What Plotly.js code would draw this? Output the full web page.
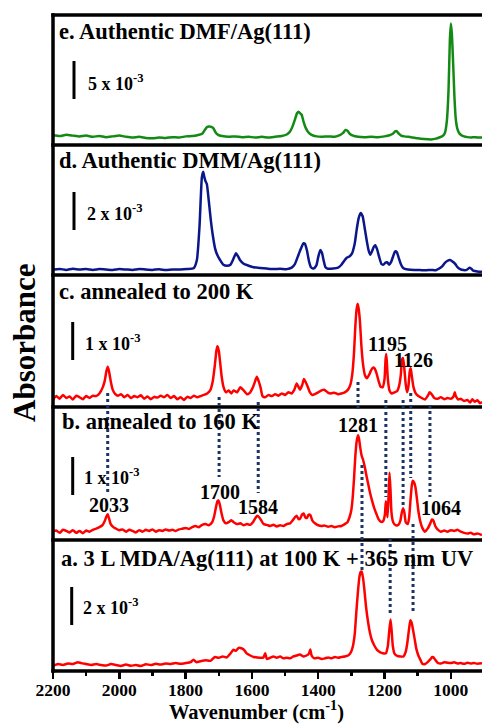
<!DOCTYPE html>
<html><head><meta charset="utf-8">
<script src="https://cdn.plot.ly/plotly-3.0.1.min.js"></script>
<style>html,body{margin:0;padding:0;background:#fff;}#chart{width:482px;height:724px;}</style>
</head><body><div id="chart"></div>
<script>
// ---------- DATA (absorbance in units of 10^-3) ----------
const wnE = [2200,2180,2160,2140,2120,2100,2080,2060,2040,2020,2000,1980,1960,1940,1920,1900,1880,1860,1840,1820,1800,1780,1765,1750,1742,1736,1730,1722,1716,1710,1702,1690,1670,1650,1630,1610,1590,1570,1550,1530,1510,1495,1485,1478,1470,1464,1459,1455,1450,1445,1438,1430,1420,1405,1390,1370,1350,1335,1325,1318,1312,1305,1295,1280,1260,1240,1220,1200,1185,1175,1168,1163,1157,1150,1140,1120,1100,1080,1060,1045,1035,1025,1018,1012,1007,1003,1000,997,993,989,985,980,975,968,960,950,940,930,920,906];
const absE = [0.1,0.0,0.15,0.05,-0.05,0.05,-0.1,0.0,-0.15,-0.05,0.05,-0.1,-0.2,-0.1,-0.25,-0.3,-0.2,-0.25,-0.15,-0.2,-0.05,0.0,0.1,0.3,0.8,1.15,1.25,1.2,1.0,0.5,0.15,0.0,-0.1,-0.05,-0.15,-0.1,-0.2,-0.1,-0.2,-0.1,0.0,0.2,0.6,1.2,2.2,3.0,3.2,3.0,2.8,2.0,1.1,0.5,0.15,-0.05,-0.1,-0.05,-0.1,0.1,0.4,0.8,0.7,0.3,0.05,-0.1,-0.15,-0.1,-0.15,-0.05,0.1,0.3,0.6,0.65,0.3,0.05,-0.05,-0.15,-0.3,-0.4,-0.45,-0.35,-0.2,0.0,0.4,2.0,6.0,12.5,14.8,13.5,9.5,5.0,2.2,0.9,0.4,0.1,-0.05,-0.15,-0.2,-0.15,-0.2,-0.2];

const wnD = [2200,2180,2160,2140,2120,2100,2080,2060,2040,2020,2000,1980,1960,1940,1920,1900,1880,1860,1840,1816,1796,1776,1766,1758,1751,1747,1744,1740,1736,1730,1724,1718,1711,1704,1696,1686,1675,1665,1656,1648,1642,1636,1625,1610,1595,1575,1555,1535,1515,1495,1480,1470,1460,1452,1445,1440,1434,1428,1422,1414,1406,1400,1394,1389,1384,1378,1370,1355,1340,1330,1322,1314,1306,1298,1290,1284,1278,1272,1266,1260,1254,1248,1243,1238,1232,1228,1223,1216,1209,1203,1197,1192,1186,1180,1174,1168,1163,1157,1150,1143,1130,1110,1093,1075,1060,1045,1035,1027,1018,1010,1002,995,987,980,972,962,952,944,938,932,920,906];
const absD = [0.0,0.03,-0.02,0.04,0.0,0.03,-0.02,0.02,0.0,-0.03,0.02,0.0,-0.02,0.03,0.0,-0.02,0.01,-0.03,0.0,0.0,0.02,0.06,0.5,2.3,4.85,5.15,4.9,4.65,4.5,3.6,2.6,1.8,1.1,0.75,0.5,0.25,0.2,0.25,0.55,0.85,0.7,0.5,0.3,0.2,0.12,0.08,0.05,0.02,0.04,0.02,0.1,0.3,0.75,1.1,1.38,1.35,1.0,0.45,0.12,0.05,0.2,0.65,1.02,0.9,0.5,0.12,0.04,0.05,0.1,0.25,0.45,0.62,0.68,0.85,1.35,2.1,2.7,2.98,2.8,2.2,1.55,1.0,0.78,0.95,1.2,1.28,1.1,0.65,0.28,0.26,0.36,0.38,0.25,0.4,0.7,0.95,0.92,0.6,0.25,0.06,0.0,-0.03,-0.03,-0.04,-0.02,-0.04,0.05,0.15,0.35,0.46,0.5,0.42,0.3,0.12,0.02,-0.03,-0.02,0.09,0.04,-0.06,-0.1,-0.12];

const wnC = [2200,2190,2180,2170,2160,2150,2140,2130,2120,2110,2100,2090,2080,2070,2060,2050,2044,2039,2035,2031,2026,2020,2012,2004,1995,1985,1975,1965,1955,1945,1935,1925,1915,1905,1895,1885,1875,1865,1855,1845,1835,1825,1815,1805,1795,1785,1775,1765,1755,1745,1735,1726,1718,1712,1707,1704,1700,1696,1691,1686,1678,1670,1662,1655,1645,1635,1625,1615,1605,1597,1590,1585,1580,1574,1568,1560,1550,1540,1530,1520,1510,1500,1490,1480,1472,1465,1460,1455,1448,1443,1438,1432,1425,1418,1410,1400,1390,1382,1372,1362,1352,1340,1330,1320,1310,1303,1297,1292,1288,1284,1281,1278,1274,1270,1265,1259,1253,1247,1241,1235,1230,1224,1218,1212,1206,1200,1197,1195,1193,1190,1185,1178,1170,1162,1156,1151,1147,1144,1140,1136,1132,1128,1124,1121,1118,1113,1106,1098,1088,1078,1070,1064,1058,1050,1040,1030,1020,1010,1000,992,988,985,978,970,960,950,942,935,928,920,912,906];
const absC = [-0.05,0.05,-0.02,0.08,0.0,0.04,-0.04,0.06,0.02,-0.03,0.05,0.0,0.06,0.05,0.12,0.28,0.45,0.7,0.82,0.7,0.45,0.22,0.1,0.06,0.1,0.02,0.08,0.0,0.05,0.02,0.07,-0.02,0.04,-0.03,0.03,0.01,0.06,0.02,0.08,0.0,0.05,-0.03,0.02,-0.05,0.03,0.0,0.06,0.02,0.05,0.08,0.12,0.2,0.45,0.85,1.25,1.36,1.25,0.95,0.55,0.3,0.15,0.2,0.12,0.2,0.15,0.28,0.2,0.1,0.15,0.28,0.45,0.56,0.45,0.28,0.05,0.02,0.08,0.05,0.1,0.06,0.12,0.08,0.15,0.12,0.22,0.38,0.3,0.22,0.35,0.5,0.42,0.3,0.15,0.08,0.1,0.15,0.2,0.22,0.15,0.12,0.14,0.1,0.12,0.15,0.22,0.35,0.65,1.2,1.9,2.35,2.48,2.35,2.0,1.4,0.9,0.6,0.52,0.6,0.72,0.8,0.78,0.65,0.45,0.3,0.28,0.5,1.0,1.16,0.95,0.5,0.2,0.12,0.15,0.18,0.32,0.6,1.02,1.05,0.75,0.35,0.15,0.3,0.7,0.78,0.6,0.3,0.12,0.05,0.0,-0.04,0.05,0.15,0.1,0.0,-0.02,0.02,-0.03,0.0,-0.02,0.04,0.15,0.05,-0.04,-0.02,-0.08,-0.05,-0.12,-0.03,-0.1,-0.06,-0.14,-0.1];

const wnB = [2200,2190,2180,2170,2160,2150,2140,2130,2120,2110,2100,2090,2080,2070,2060,2050,2044,2039,2035,2031,2026,2018,2010,2000,1990,1980,1970,1960,1950,1940,1930,1920,1910,1900,1890,1880,1870,1860,1850,1840,1830,1820,1810,1800,1790,1780,1770,1760,1750,1740,1730,1720,1714,1709,1704,1701,1697,1692,1686,1678,1670,1662,1655,1645,1635,1625,1615,1605,1597,1590,1584,1578,1572,1565,1555,1545,1535,1525,1515,1505,1495,1485,1477,1470,1465,1459,1454,1449,1444,1439,1434,1429,1424,1418,1410,1400,1390,1380,1370,1360,1350,1340,1330,1320,1312,1305,1300,1296,1292,1288,1284,1280,1277,1273,1269,1265,1260,1254,1248,1243,1237,1231,1225,1218,1211,1204,1199,1196,1194,1191,1188,1185,1182,1179,1174,1166,1158,1152,1148,1144,1140,1136,1130,1126,1122,1118,1115,1111,1107,1103,1098,1093,1086,1078,1070,1063,1057,1053,1047,1040,1030,1020,1010,1000,990,980,970,960,950,940,930,920,906];
const absB = [0.0,0.03,-0.03,0.05,0.02,-0.02,0.04,-0.03,0.02,-0.04,0.03,0.0,0.05,0.08,0.12,0.18,0.28,0.4,0.46,0.35,0.2,0.12,0.08,0.04,0.06,0.0,0.05,0.02,-0.02,0.04,0.0,0.05,0.02,0.06,0.0,0.04,0.02,0.06,0.03,0.05,0.02,0.06,0.08,0.1,0.07,0.12,0.15,0.12,0.18,0.2,0.17,0.25,0.4,0.62,0.8,0.82,0.72,0.5,0.3,0.22,0.25,0.3,0.25,0.2,0.22,0.17,0.2,0.18,0.25,0.35,0.42,0.38,0.3,0.2,0.18,0.15,0.18,0.14,0.17,0.15,0.2,0.22,0.3,0.38,0.42,0.33,0.35,0.45,0.48,0.38,0.36,0.45,0.44,0.3,0.22,0.17,0.15,0.16,0.13,0.15,0.12,0.14,0.15,0.2,0.25,0.4,0.58,0.9,1.4,2.0,2.38,2.54,2.45,2.2,2.0,1.9,1.72,1.45,1.2,1.0,0.8,0.62,0.48,0.33,0.26,0.28,0.45,0.8,0.6,0.38,0.9,1.55,1.1,0.5,0.25,0.17,0.18,0.3,0.5,0.62,0.5,0.25,0.2,0.35,0.8,1.2,1.34,1.3,1.18,0.92,0.55,0.3,0.1,0.0,0.08,0.2,0.32,0.3,0.15,0.06,0.0,0.03,0.0,0.04,0.02,0.05,0.0,-0.03,-0.05,-0.03,-0.07,-0.05,-0.09];

const wnA = [2200,2185,2170,2155,2140,2125,2115,2100,2085,2070,2055,2040,2025,2010,1995,1980,1965,1950,1935,1920,1905,1890,1875,1860,1845,1830,1815,1800,1785,1776,1768,1755,1740,1725,1712,1700,1688,1676,1665,1656,1648,1640,1632,1624,1615,1605,1595,1585,1575,1565,1560,1555,1545,1535,1525,1515,1505,1495,1485,1475,1465,1455,1445,1435,1428,1424,1420,1412,1400,1390,1380,1370,1360,1350,1340,1330,1320,1310,1302,1296,1290,1285,1280,1276,1272,1269,1265,1261,1256,1250,1244,1238,1230,1222,1214,1205,1196,1190,1186,1182,1179,1175,1170,1162,1152,1143,1136,1131,1126,1122,1118,1114,1109,1104,1098,1092,1085,1078,1070,1062,1056,1052,1046,1040,1030,1020,1010,1000,990,980,970,960,950,940,930,920,906];
const absA = [-0.05,0.05,0.0,0.08,0.05,0.15,0.1,0.05,0.0,0.05,0.0,-0.03,0.05,0.0,-0.05,0.02,-0.04,0.0,-0.05,0.04,0.0,0.06,0.02,0.08,0.05,0.1,0.06,0.1,0.15,0.28,0.15,0.2,0.25,0.22,0.42,0.38,0.45,0.4,0.6,0.8,0.75,0.9,0.88,0.8,0.6,0.5,0.42,0.4,0.38,0.4,0.62,0.32,0.38,0.45,0.38,0.45,0.35,0.38,0.35,0.45,0.5,0.55,0.45,0.5,0.6,0.82,0.5,0.35,0.38,0.32,0.35,0.4,0.35,0.42,0.38,0.42,0.45,0.5,0.65,0.95,1.6,2.8,3.9,4.6,4.9,4.92,4.6,4.0,3.1,2.3,1.7,1.3,1.0,0.78,0.68,0.62,0.62,1.0,1.75,2.4,1.9,1.0,0.6,0.48,0.45,0.45,0.7,1.2,1.9,2.35,2.2,1.85,1.35,0.85,0.5,0.28,0.05,0.05,0.15,0.3,0.42,0.4,0.25,0.12,0.08,0.15,0.12,0.1,0.14,0.08,0.1,0.06,0.12,0.08,0.1,0.07,0.09];

const panelLabels = ['e. Authentic DMF/Ag(111)','d. Authentic DMM/Ag(111)','c. annealed to 200 K','b. annealed to 160 K','a. 3 L MDA/Ag(111) at 100 K + 365 nm UV'];
const scaleValues = [5, 2, 1, 1, 2];           // scale bar size, 10^-3 absorbance
const scaleLabels = scaleValues.map(v => v + ' x 10<sup>-3</sup>');
const peakLabels = ['1195','1126','1281','2033','1700','1584','1064'];
const markWn = [2035,1699,1581,1280,1196,1144,1121,1063,1268,1183,1114]; // dotted peak guides (cm-1)
const xTickVals = [2200,2000,1800,1600,1400,1200,1000];

// ---------- LAYOUT HELPERS ----------
const F = 'Liberation Serif, Times New Roman, serif';
const PX = px => (px - 53) / 429;   // paper x from pixel
const PY = py => (671 - py) / 656;  // paper y from pixel

const panels = [
  {wn: wnE, ab: absE, ax: 'y5', color: '#138a13', top: 15,  bot: 145, base: 136,   barPx: 74,  barBot: 99,  txtX: 86, txtY: 82,  labX: 57, labY: 32},
  {wn: wnD, ab: absD, ax: 'y4', color: '#0b168a', top: 145, bot: 275, base: 269.5, barPx: 74,  barBot: 230, txtX: 85, txtY: 212, labX: 57, labY: 160.5},
  {wn: wnC, ab: absC, ax: 'y3', color: '#ff0000', top: 275, bot: 407, base: 398,   barPx: 72.7,barBot: 360, txtX: 83, txtY: 342, labX: 57, labY: 291.5},
  {wn: wnB, ab: absB, ax: 'y2', color: '#ff0000', top: 407, bot: 540, base: 531.7, barPx: 72.7,barBot: 495, txtX: 82, txtY: 476, labX: 60, labY: 422},
  {wn: wnA, ab: absA, ax: 'y',  color: '#ff0000', top: 540, bot: 671, base: 665,   barPx: 71.7,barBot: 625, txtX: 81, txtY: 606, labX: 59, labY: 558}
];
const BAR_PX = 38; // pixel length of scale bar

const traces = [];
const layout = {
  width: 482, height: 724,
  margin: {l: 53, r: 0, t: 15, b: 53, pad: 0},
  paper_bgcolor: '#fff', plot_bgcolor: '#fff',
  showlegend: false,
  font: {family: F, size: 18, color: '#000'},
  xaxis: {
    range: [2200, 906], autorange: false, anchor: 'y',
    showgrid: false, zeroline: false, showline: false,
    tickmode: 'array', tickvals: xTickVals, ticktext: xTickVals.map(String),
    ticks: 'outside', ticklen: 7, tickwidth: 2.5, tickcolor: '#000', ticklabelstandoff: -4,
    tickfont: {family: F, size: 17.5, color: '#000', weight: 'bold'},
    minor: {tickmode: 'linear', tick0: 0, dtick: 100, ticks: 'outside', ticklen: 4, tickwidth: 2.5, tickcolor: '#000', showgrid: false}
  },
  shapes: [], annotations: []
};

panels.forEach((p, i) => {
  const s = scaleValues[i];
  const k = s / BAR_PX;
  const axName = p.ax === 'y' ? 'yaxis' : 'yaxis' + p.ax.slice(1);
  layout[axName] = {
    domain: [PY(p.bot), PY(p.top)], anchor: 'x',
    range: [-(p.bot - p.base) * k, (p.base - p.top) * k], autorange: false,
    visible: false, fixedrange: true
  };
  traces.push({x: p.wn, y: p.ab, xaxis: 'x', yaxis: p.ax, type: 'scatter', mode: 'lines',
    line: {color: p.color, width: 2.5, shape: 'spline', smoothing: 0.5}, hoverinfo: 'skip'});
  // scale bar (length = scale value in data units)
  const b0 = (p.base - p.barBot) * k;
  layout.shapes.push({type: 'line', xref: 'paper', yref: p.ax, x0: PX(p.barPx), x1: PX(p.barPx), y0: b0, y1: b0 + s,
    line: {color: '#000', width: 3}});
  layout.annotations.push({xref: 'paper', yref: 'paper', x: PX(p.txtX), y: PY(p.txtY), xanchor: 'left', yanchor: 'middle',
    text: scaleLabels[i], showarrow: false, font: {family: F, size: 18, color: '#000', weight: 'bold'}});
  layout.annotations.push({xref: 'paper', yref: 'paper', x: PX(p.labX), y: PY(p.labY), xanchor: 'left', yanchor: 'middle',
    text: panelLabels[i], showarrow: false, font: {family: F, size: 22.5, color: '#000', weight: 'bold'}});
});

// frame lines
layout.shapes.push({type: 'line', xref: 'paper', yref: 'paper', x0: 0, x1: 0, y0: -0.0027, y1: 1.0027, line: {color: '#000', width: 3.5}});
[15, 145, 275, 407, 540, 671].forEach(py => {
  layout.shapes.push({type: 'line', xref: 'paper', yref: 'paper', x0: -0.004, x1: 1, y0: PY(py), y1: PY(py), line: {color: '#000', width: 3.5}});
});

// dotted guides (y extents in pixels)
const guideY = [[393,493],[397,477],[402,493],[382,412],[400,497],[400,507],[393,478],[405,497],[465,570],[538,615],[524,613]];
markWn.forEach((w, i) => {
  layout.shapes.push({type: 'line', xref: 'x', yref: 'paper', x0: w, x1: w, y0: PY(guideY[i][0]), y1: PY(guideY[i][1]),
    line: {color: '#1c3466', width: 3, dash: 'dot'}});
});

// peak labels (pixel centres)
const peakPos = [[387.7,343.5],[413.7,360],[358.3,425],[109,505],[220,491.7],[258,506.7],[440.8,508]];
peakLabels.forEach((t, i) => {
  layout.annotations.push({xref: 'paper', yref: 'paper', x: PX(peakPos[i][0]), y: PY(peakPos[i][1]), xanchor: 'center', yanchor: 'middle',
    text: t, showarrow: false, font: {family: F, size: 20, color: '#000', weight: 'bold'}});
});

// axis titles
layout.annotations.push({xref: 'paper', yref: 'paper', x: PX(256), y: PY(710.5), xanchor: 'center', yanchor: 'middle',
  text: 'Wavenumber (cm<sup>-1</sup>)', showarrow: false, font: {family: F, size: 20.5, color: '#000', weight: 'bold'}});
layout.annotations.push({xref: 'paper', yref: 'paper', x: PX(24), y: PY(343), xanchor: 'center', yanchor: 'middle', textangle: -90,
  text: 'Absorbance', showarrow: false, font: {family: F, size: 31, color: '#000', weight: 'bold'}});

Plotly.newPlot('chart', traces, layout, {staticPlot: true, displayModeBar: false});
</script>
</body></html>
